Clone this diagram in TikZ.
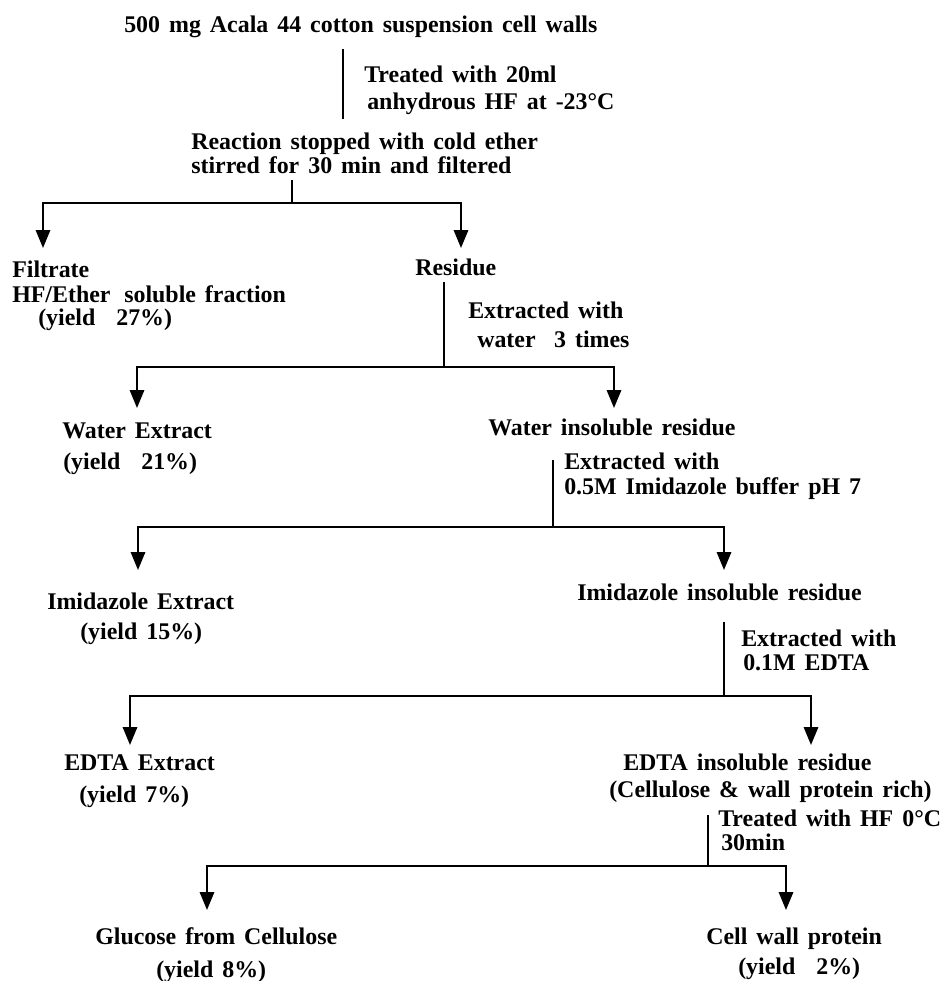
\documentclass[tikz,border=0pt]{standalone}
\usepackage{fontspec}
\setmainfont[WordSpace=1.5]{Liberation Serif}
\usetikzlibrary{arrows.meta}
\begin{document}
\begin{tikzpicture}[x=0.025cm,y=-0.025cm,
  txt/.style={anchor=base west,inner sep=0pt,font=\fontsize{17pt}{20pt}\selectfont\bfseries},
  conn/.style={line width=0.05cm},
  arr/.style={conn,-{Triangle[length=0.45cm,width=0.36cm]}}]
\useasboundingbox (0,0) rectangle (950,981);
% texts
\node[txt] (title) at (124,32) {500 mg Acala 44 cotton suspension cell walls};
\node[txt] (t1a) at (364,82) {Treated with 20ml};
\node[txt] (t1b) at (367,109) {anhydrous HF at -23°C};
\node[txt] (rxa) at (191,149) {Reaction stopped with cold ether};
\node[txt] (rxb) at (191,173) {stirred for 30 min and filtered};
\node[txt] (fa) at (12,277) {Filtrate};
\node[txt] (fb) at (12,302) {HF/Ether\hspace{0.2em} soluble fraction};
\node[txt] (fc) at (38,325) {(yield\hspace{0.5em} 27\%)};
\node[txt] (res) at (415,275) {Residue};
\node[txt] (e1a) at (468,318) {Extracted with};
\node[txt] (e1b) at (477,347) {water\hspace{0.4em} 3 times};
\node[txt] (wea) at (62,438) {Water Extract};
\node[txt] (web) at (63,469) {(yield\hspace{0.5em} 21\%)};
\node[txt] (wir) at (488,435) {Water insoluble residue};
\node[txt] (e2a) at (564,469) {Extracted with};
\node[txt] (e2b) at (564,494) {0.5M Imidazole buffer pH 7};
\node[txt] (iea) at (47,609) {Imidazole Extract};
\node[txt] (ieb) at (80,639) {(yield 15\%)};
\node[txt] (iir) at (577,600) {Imidazole insoluble residue};
\node[txt] (e3a) at (741,646) {Extracted with};
\node[txt] (e3b) at (743,670) {0.1M EDTA};
\node[txt] (eea) at (64,770) {EDTA Extract};
\node[txt] (eeb) at (79,802) {(yield 7\%)};
\node[txt] (eia) at (623,770) {EDTA insoluble residue};
\node[txt] (eib) at (609,797) {(Cellulose \& wall protein rich)};
\node[txt] (t2a) at (718,826) {Treated with HF 0°C};
\node[txt] (t2b) at (721,850) {30min};
\node[txt] (gla) at (95,944) {Glucose from Cellulose};
\node[txt] (glb) at (156,977) {(yield 8\%)};
\node[txt] (cpa) at (706,944) {Cell wall protein};
\node[txt] (cpb) at (738,974) {(yield\hspace{0.5em} 2\%)};
% connector points
\coordinate (a0) at (343,49); \coordinate (a1) at (343,119);
\coordinate (b0) at (292,180); \coordinate (b1) at (292,203);
\coordinate (bl) at (43,203); \coordinate (bl2) at (43,248);
\coordinate (br) at (461,203); \coordinate (br2) at (461,248);
\coordinate (c0) at (444,282); \coordinate (c1) at (444,367);
\coordinate (cl) at (137,367); \coordinate (cl2) at (137,408);
\coordinate (cr) at (614,367); \coordinate (cr2) at (614,408);
\coordinate (d0) at (553,460); \coordinate (d1) at (553,527);
\coordinate (dl) at (138,527); \coordinate (dl2) at (138,570);
\coordinate (dr) at (724,527); \coordinate (dr2) at (724,570);
\coordinate (e0) at (724,622); \coordinate (e1) at (724,696);
\coordinate (el) at (130,696); \coordinate (el2) at (130,745);
\coordinate (er) at (811,696); \coordinate (er2) at (811,745);
\coordinate (f0) at (708,815); \coordinate (f1) at (708,866);
\coordinate (fl) at (207,866); \coordinate (fl2) at (207,910);
\coordinate (fr) at (786,866); \coordinate (fr2) at (786,910);
% connectors
\draw[conn] (a0) -- (a1);
\draw[conn] (b0) -- (b1);
\draw[arr] (b1) -- (bl) -- (bl2);
\draw[arr] (b1) -- (br) -- (br2);
\draw[conn] (c0) -- (c1);
\draw[arr] (c1) -- (cl) -- (cl2);
\draw[arr] (c1) -- (cr) -- (cr2);
\draw[conn] (d0) -- (d1);
\draw[arr] (d1) -- (dl) -- (dl2);
\draw[arr] (d1) -- (dr) -- (dr2);
\draw[conn] (e0) -- (e1);
\draw[arr] (e1) -- (el) -- (el2);
\draw[arr] (e1) -- (er) -- (er2);
\draw[conn] (f0) -- (f1);
\draw[arr] (f1) -- (fl) -- (fl2);
\draw[arr] (f1) -- (fr) -- (fr2);
\end{tikzpicture}
\end{document}
